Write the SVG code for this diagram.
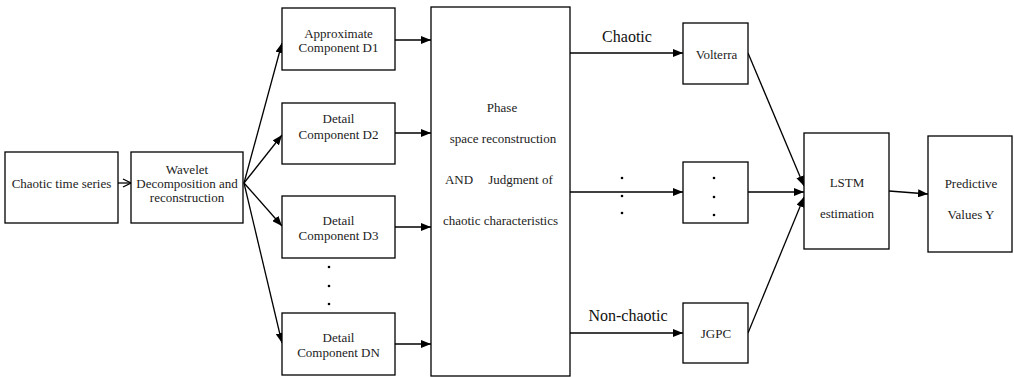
<svg xmlns="http://www.w3.org/2000/svg" width="1014" height="377" viewBox="0 0 1014 377">
<defs>
<style>
.box{fill:#fff;stroke:#000;stroke-width:1.3}
.t{font-family:'Liberation Serif','DejaVu Serif',serif;font-size:13px;fill:#222;text-anchor:middle}
.lbl{font-family:'Liberation Serif','DejaVu Serif',serif;font-size:16px;fill:#111;text-anchor:middle}
.c{fill:none;stroke:#000;stroke-width:1.3}
.dot{fill:#000}
</style>
<marker id="ah" markerWidth="10" markerHeight="8" refX="10" refY="4" orient="auto" markerUnits="userSpaceOnUse">
<path d="M0,0 L10,4 L0,8 Z" fill="#000"/>
</marker>
<marker id="ao" markerWidth="10" markerHeight="10" refX="9" refY="5" orient="auto" markerUnits="userSpaceOnUse">
<path d="M1,1 L9,5 L1,9" fill="none" stroke="#000" stroke-width="1.3"/>
</marker>
</defs>
<rect width="1014" height="377" fill="#fff"/>

<g id="connectors">
<line class="c" x1="118" y1="183" x2="131" y2="183" marker-end="url(#ao)"/>
<line class="c" x1="244" y1="183" x2="282" y2="43" marker-end="url(#ah)"/>
<line class="c" x1="244" y1="183" x2="282" y2="135" marker-end="url(#ah)"/>
<line class="c" x1="244" y1="183" x2="282" y2="226" marker-end="url(#ah)"/>
<line class="c" x1="244" y1="183" x2="282" y2="343" marker-end="url(#ah)"/>
<line class="c" x1="395" y1="40" x2="431" y2="40" marker-end="url(#ah)"/>
<line class="c" x1="395" y1="133" x2="431" y2="133" marker-end="url(#ah)"/>
<line class="c" x1="395" y1="227" x2="431" y2="227" marker-end="url(#ah)"/>
<line class="c" x1="395" y1="344" x2="431" y2="344" marker-end="url(#ah)"/>
<line class="c" x1="570" y1="53" x2="683" y2="53" marker-end="url(#ah)"/>
<line class="c" x1="570" y1="192" x2="683" y2="192" marker-end="url(#ah)"/>
<line class="c" x1="570" y1="333" x2="683" y2="333" marker-end="url(#ah)"/>
<line class="c" x1="748" y1="53" x2="804" y2="186" marker-end="url(#ah)"/>
<line class="c" x1="748" y1="192" x2="804" y2="192" marker-end="url(#ah)"/>
<line class="c" x1="748" y1="333" x2="804" y2="197" marker-end="url(#ah)"/>
<line class="c" x1="889" y1="191" x2="928" y2="194" marker-end="url(#ah)"/>
<text class="lbl" font-family="Liberation Serif, serif" x="627" y="42">Chaotic</text>
<text class="lbl" font-family="Liberation Serif, serif" x="628" y="321">Non-chaotic</text>
<circle class="dot" cx="622" cy="178" r="1.3"/>
<circle class="dot" cx="622" cy="196" r="1.3"/>
<circle class="dot" cx="622" cy="213" r="1.3"/>
<circle class="dot" cx="329" cy="267" r="1.3"/>
<circle class="dot" cx="329" cy="286" r="1.3"/>
<circle class="dot" cx="329" cy="304" r="1.3"/>
</g>

<g id="n-series" font-family="Liberation Serif, serif">
<rect class="box" x="5" y="152" width="113" height="71"/>
<text class="t" x="61.5" y="187.5">Chaotic time series</text>
</g>

<g id="n-wavelet">
<rect class="box" x="131" y="152" width="112" height="71"/>
<text class="t" x="187" y="173.5">Wavelet</text>
<text class="t" x="187" y="187.5">Decomposition and</text>
<text class="t" x="187" y="201.5">reconstruction</text>
</g>

<g id="n-d1">
<rect class="box" x="282" y="8" width="113" height="62"/>
<text class="t" x="338.5" y="37.5">Approximate</text>
<text class="t" x="338.5" y="51.5">Component D1</text>
</g>

<g id="n-d2">
<rect class="box" x="282" y="103" width="113" height="61"/>
<text class="t" x="338.5" y="122.5">Detail</text>
<text class="t" x="338.5" y="139">Component D2</text>
</g>

<g id="n-d3">
<rect class="box" x="282" y="196" width="113" height="62"/>
<text class="t" x="338.5" y="224.5">Detail</text>
<text class="t" x="338.5" y="240">Component D3</text>
</g>

<g id="n-dn">
<rect class="box" x="282" y="313" width="113" height="62"/>
<text class="t" x="338.5" y="341.5">Detail</text>
<text class="t" x="338.5" y="357">Component DN</text>
</g>

<g id="n-phase">
<rect class="box" x="431" y="7" width="139" height="369"/>
<text class="t" x="502" y="111.5">Phase</text>
<text class="t" x="503" y="142.5">space reconstruction</text>
<text class="t" x="459" y="183.5">AND</text>
<text class="t" x="520.5" y="183.5">Judgment of</text>
<text class="t" x="500.5" y="224.5">chaotic characteristics</text>
</g>

<g id="n-volterra">
<rect class="box" x="683" y="23" width="65" height="61"/>
<text class="t" x="716.5" y="58.5">Volterra</text>
</g>

<g id="n-mid">
<rect class="box" x="683" y="162" width="65" height="61"/>
<circle class="dot" cx="714" cy="178" r="1.3"/>
<circle class="dot" cx="714" cy="197" r="1.3"/>
<circle class="dot" cx="714" cy="215" r="1.3"/>
</g>

<g id="n-jgpc">
<rect class="box" x="683" y="303" width="65" height="60"/>
<text class="t" x="716" y="337.5">JGPC</text>
</g>

<g id="n-lstm">
<rect class="box" x="804" y="133" width="85" height="116"/>
<text class="t" x="847" y="186.5">LSTM</text>
<text class="t" x="847" y="217.5">estimation</text>
</g>

<g id="n-pred">
<rect class="box" x="928" y="136" width="84" height="116"/>
<text class="t" x="971" y="187.5">Predictive</text>
<text class="t" x="971" y="218.5">Values Y</text>
</g>
</svg>
